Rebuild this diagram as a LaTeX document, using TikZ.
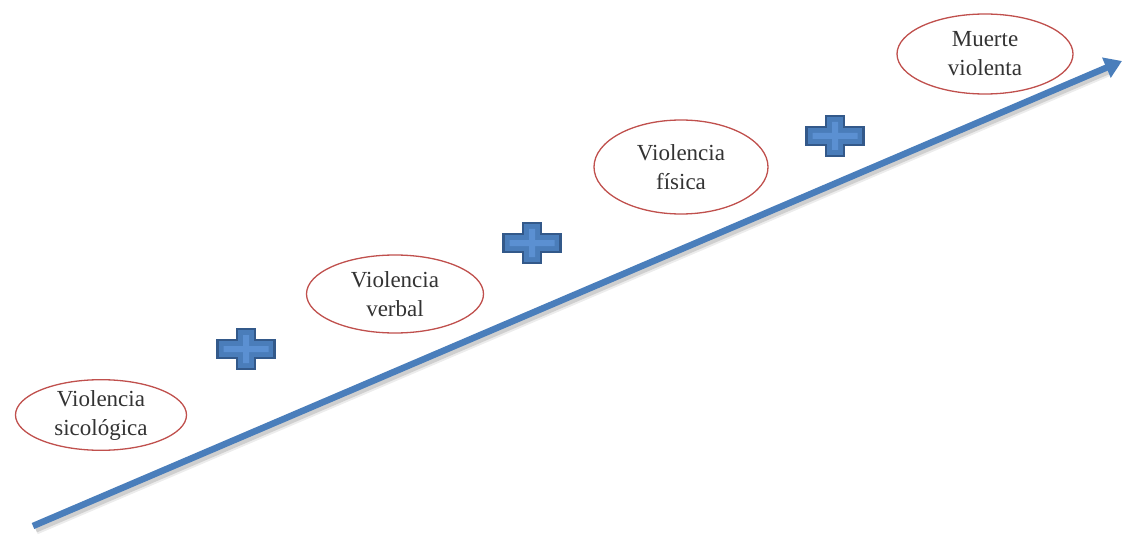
\documentclass[tikz,border=0pt]{standalone}
\usepackage{fontspec}
\setmainfont{Liberation Serif}
\usetikzlibrary{shapes.geometric,arrows.meta}
\definecolor{stageRed}{HTML}{C0504D}
\definecolor{arrowBlue}{HTML}{4A7EBB}
\definecolor{plusFill}{HTML}{4A7DBA}
\definecolor{plusLight}{HTML}{5B90D2}
\definecolor{plusEdge}{HTML}{33598A}
\tikzset{
  stage/.style={ellipse, draw=stageRed, line width=1.3pt, fill=white, inner sep=0pt,
    align=center, text=black!80, font=\fontsize{23}{29}\selectfont},
  plussign/.pic={
    \path[fill=plusFill, draw=plusEdge, line width=2.6pt, line join=miter]
      (-9,20) -- (9,20) -- (9,9) -- (28.5,9) -- (28.5,-9) -- (9,-9) -- (9,-20)
      -- (-9,-20) -- (-9,-9) -- (-28.5,-9) -- (-28.5,9) -- (-9,9) -- cycle;
    \path[fill=plusLight]
      (-3,14) -- (3,14) -- (3,3) -- (22.5,3) -- (22.5,-3) -- (3,-3) -- (3,-14)
      -- (-3,-14) -- (-3,-3) -- (-22.5,-3) -- (-22.5,3) -- (-3,3) -- cycle;
  }
}
\begin{document}
\begin{tikzpicture}[x=1pt,y=-1pt]
  \useasboundingbox (0,0) rectangle (1123,537);

  % rising arrow with a soft drop shadow
  \coordinate (tail) at (33,526);
  \coordinate (head) at (1122,61);
  \coordinate (tailS) at (36,530);
  \coordinate (headS) at (1108,72);
  \draw[black!30, line width=9pt, opacity=0.25] (tailS) -- (headS);
  \draw[black!40, line width=5pt, opacity=0.35] (tailS) -- (headS);
  \draw[arrowBlue, line width=6.5pt, -{Triangle[length=17pt,width=21pt]}] (tail) -- (head);

  % stages of violence
  \node[stage, minimum width=171pt, minimum height=58pt] (s1) at (101,415) {Violencia\\sicológica};
  \node[stage, minimum width=177pt, minimum height=78pt] (s2) at (395,294) {Violencia\\verbal};
  \node[stage, minimum width=174pt, minimum height=94pt] (s3) at (681,167) {Violencia\\física};
  \node[stage, minimum width=176pt, minimum height=80pt] (s4) at (985,54) {Muerte\\violenta};

  % plus signs between the stages
  \pic at (246,349) {plussign};
  \pic at (532,243) {plussign};
  \pic at (835,136) {plussign};
\end{tikzpicture}
\end{document}
